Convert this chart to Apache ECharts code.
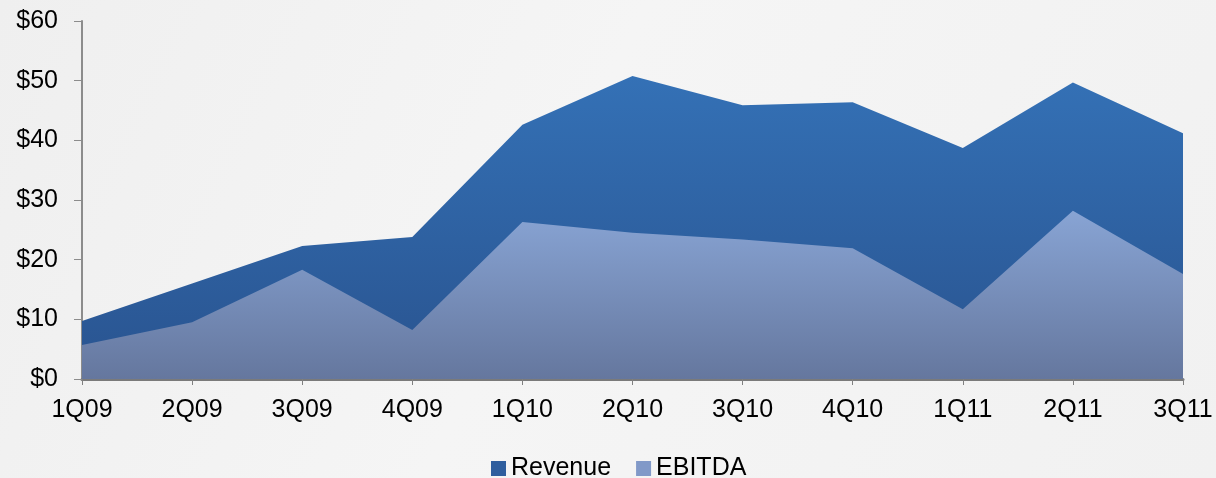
<!DOCTYPE html>
<html>
<head>
<meta charset="utf-8">
<script src="https://cdn.jsdelivr.net/npm/echarts@6/dist/echarts.min.js"></script>
<style>
  html, body { margin: 0; padding: 0; }
  #chart {
    width: 1216px;
    height: 478px;
    background: linear-gradient(115deg, #efefef 0%, #f5f5f5 45%, #f1f1f1 100%);
  }
</style>
</head>
<body>
<div id="chart"></div>
<script>
// quarters on the x axis
const quarters = ['1Q09', '2Q09', '3Q09', '4Q09', '1Q10', '2Q10', '3Q10', '4Q10', '1Q11', '2Q11', '3Q11']
// $ millions
const revenue = [9.7, 16.0, 22.3, 23.8, 42.6, 50.8, 45.9, 46.4, 38.7, 49.7, 41.2]
const ebitda = [5.7, 9.5, 18.3, 8.2, 26.3, 24.5, 23.4, 21.9, 11.7, 28.2, 17.6]

const font = 'Liberation Sans, Arial, sans-serif'

function grad (top, bottom) {
  return new echarts.graphic.LinearGradient(0, 0, 0, 1, [
    { offset: 0, color: top },
    { offset: 1, color: bottom }
  ])
}

const chart = echarts.init(document.getElementById('chart'), null, { renderer: 'canvas' })

chart.setOption({
  animation: false,
  backgroundColor: 'transparent',
  grid: { left: 82, right: 33, top: 21, bottom: 99 },
  legend: {
    top: 456,
    left: 491,
    padding: 0,
    itemWidth: 15,
    itemHeight: 15,
    itemGap: 25,
    icon: 'rect',
    textStyle: { fontFamily: font, fontSize: 25, color: '#000' },
    data: [
      { name: 'Revenue', itemStyle: { color: '#2f5e9e' } },
      { name: 'EBITDA', itemStyle: { color: '#8199c8' } }
    ]
  },
  xAxis: {
    type: 'category',
    boundaryGap: false,
    data: quarters,
    axisLine: { lineStyle: { color: '#7a7a7a', width: 3 } },
    axisTick: { show: true, length: 6, lineStyle: { color: '#808080', width: 1 } },
    axisLabel: { fontFamily: font, fontSize: 25, color: '#000', margin: 19 },
    splitLine: { show: false }
  },
  yAxis: {
    type: 'value',
    min: 0,
    max: 60,
    interval: 10,
    axisLine: { show: true, lineStyle: { color: '#8c8c8c', width: 2 } },
    axisTick: { show: true, length: 8, lineStyle: { color: '#8c8c8c' } },
    axisLabel: { fontFamily: font, fontSize: 25, color: '#000', margin: 24, formatter: '${value}' },
    splitLine: { show: false }
  },
  series: [
    {
      name: 'Revenue',
      type: 'line',
      data: revenue,
      symbol: 'none',
      lineStyle: { width: 0 },
      itemStyle: { color: '#2f5e9e' },
      areaStyle: { opacity: 1, color: grad('#3471b6', '#29538f') },
      z: 1
    },
    {
      name: 'EBITDA',
      type: 'line',
      data: ebitda,
      symbol: 'none',
      lineStyle: { width: 0 },
      itemStyle: { color: '#8199c8' },
      areaStyle: { opacity: 1, color: grad('#88a4d4', '#65779e') },
      z: 2
    }
  ]
})
</script>
</body>
</html>
